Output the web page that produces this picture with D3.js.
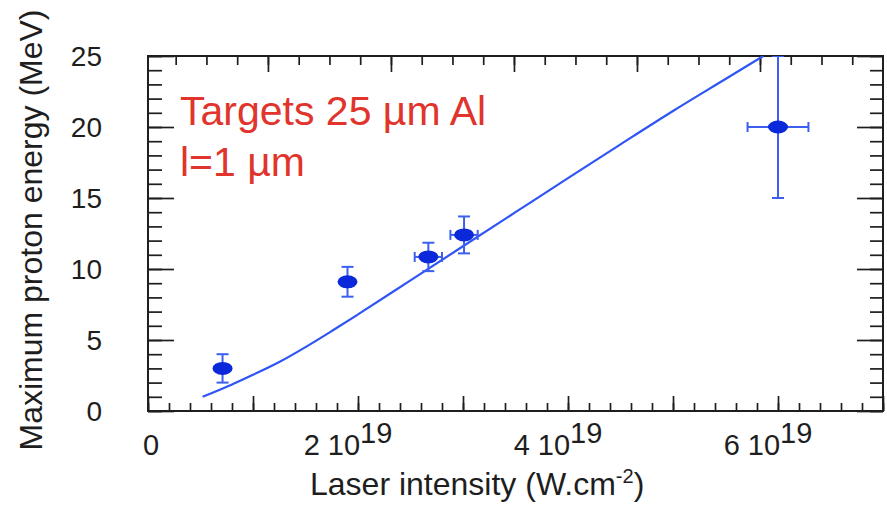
<!DOCTYPE html>
<html>
<head>
<meta charset="utf-8">
<script src="https://cdn.jsdelivr.net/npm/d3@7/dist/d3.min.js"></script>
<style>
  html, body { margin: 0; padding: 0; background: #fff; }
  svg { display: block; font-family: "Liberation Sans", Arial, sans-serif; }
</style>
</head>
<body>
<svg id="chart" width="887" height="505"></svg>
<script>
// Measured maximum proton energy vs laser intensity
const intensity    = [0.71e19, 1.9e19, 2.67e19, 3.01e19, 6.0e19];   // W.cm-2
const energy       = [3.0, 9.1, 10.85, 12.4, 20.0];                  // MeV
const energyErr    = [1.0, 1.05, 1.0, 1.3, 5.0];
const intensityErr = [0, 0, 0.13e19, 0.13e19, 0.29e19];

// Model curve
const modelIntensity = [0.52e19, 0.8e19, 1.0e19, 1.25e19, 1.5e19, 1.75e19, 2.0e19, 2.5e19, 3.0e19, 3.5e19, 4.0e19, 4.5e19, 5.0e19, 5.5e19, 5.86e19];
const modelEnergy    = [1.0, 1.87, 2.55, 3.45, 4.5, 5.63, 6.8, 9.2, 11.6, 14.0, 16.4, 18.78, 21.13, 23.38, 25.0];

// Axis ticks and labels
const xDomain = [0, 7e19];
const yDomain = [0, 25];
const xMajorTicks = d3.range(0, 7.01e19, 1e19);
const xMinorTicks = d3.range(0, 7.01e19, 0.2e19);
const xLabelTicks = [0, 2e19, 4e19, 6e19];
const xLabelMantissa = ["0", "2", "4", "6"];
const xLabelExponent = "19";
const yMajorTicks = [0, 5, 10, 15, 20, 25];
const yMinorTicks = d3.range(0, 25.01, 1);
const topDomain = [0.025, 6.0];
const topMajorTicks = [1, 2, 3, 4, 5];
const topMinorTicks = d3.range(0.25, 6.0, 0.25);

const annotation = ["Targets 25 \u00b5m Al", "l=1 \u00b5m"];
const yTitle = "Maximum proton energy (MeV)";
const xTitle = ["Laser intensity (W.cm", "-2", ")"];

const svg = d3.select("#chart");
const plot = { left: 148, right: 883, top: 56, bottom: 411 };

const x = d3.scaleLinear().domain(xDomain).range([plot.left, plot.right]);
const y = d3.scaleLinear().domain(yDomain).range([plot.bottom, plot.top]);
const xTop = d3.scaleLinear().domain(topDomain).range([plot.left, plot.right]);

const ink = "#1e1e1e";

function styleAxis(g) {
  g.select(".domain").remove();
  g.selectAll(".tick line").attr("stroke", ink).attr("stroke-width", 1.7);
  g.selectAll(".tick text").remove();
}

// Bottom axis (ticks inside)
svg.append("g").attr("transform", `translate(0,${plot.bottom})`)
  .call(d3.axisBottom(x).tickValues(xMinorTicks).tickSize(-8)).call(styleAxis);
svg.append("g").attr("transform", `translate(0,${plot.bottom})`)
  .call(d3.axisBottom(x).tickValues(xMajorTicks).tickSize(-15)).call(styleAxis);

// Top axis
svg.append("g").attr("transform", `translate(0,${plot.top})`)
  .call(d3.axisTop(xTop).tickValues(topMinorTicks).tickSize(-9)).call(styleAxis);
svg.append("g").attr("transform", `translate(0,${plot.top})`)
  .call(d3.axisTop(xTop).tickValues(topMajorTicks).tickSize(-16)).call(styleAxis);

// Left axis
svg.append("g").attr("transform", `translate(${plot.left},0)`)
  .call(d3.axisLeft(y).tickValues(yMinorTicks).tickSize(-14)).call(styleAxis);
svg.append("g").attr("transform", `translate(${plot.left},0)`)
  .call(d3.axisLeft(y).tickValues(yMajorTicks).tickSize(-26)).call(styleAxis);

// Right axis
svg.append("g").attr("transform", `translate(${plot.right},0)`)
  .call(d3.axisRight(y).tickValues(yMinorTicks).tickSize(-13)).call(styleAxis);
svg.append("g").attr("transform", `translate(${plot.right},0)`)
  .call(d3.axisRight(y).tickValues(yMajorTicks).tickSize(-26)).call(styleAxis);

// Frame
svg.append("rect")
  .attr("x", plot.left).attr("y", plot.top)
  .attr("width", plot.right - plot.left).attr("height", plot.bottom - plot.top)
  .attr("fill", "none").attr("stroke", ink).attr("stroke-width", 2);

// Y tick labels
svg.append("g").selectAll("text").data(yMajorTicks).join("text")
  .attr("x", 102).attr("y", d => y(d))
  .attr("dy", "0.36em")
  .attr("text-anchor", "end")
  .attr("font-size", 28).attr("fill", ink)
  .text(d => d);

// X tick labels (mantissa 10^exponent)
const xl = svg.append("g").selectAll("text").data(xLabelTicks).join("text")
  .attr("y", 455)
  .attr("font-size", 29).attr("fill", ink);
xl.each(function (d, i) {
  const t = d3.select(this);
  if (d === 0) {
    t.attr("x", x(d) + 3).attr("text-anchor", "middle").text(xLabelMantissa[i]);
  } else {
    t.attr("x", x(d) - 10).attr("text-anchor", "middle");
    t.append("tspan").text(xLabelMantissa[i] + " 10");
    t.append("tspan").attr("dy", -12).text(xLabelExponent);
  }
});

// Axis titles
const xt = svg.append("text")
  .attr("x", 310).attr("y", 495)
  .attr("font-size", 32).attr("fill", ink);
xt.append("tspan").text(xTitle[0]);
xt.append("tspan").attr("dy", -12).attr("font-size", 20).text(xTitle[1]);
xt.append("tspan").attr("dy", 12).text(xTitle[2]);

svg.append("text")
  .attr("transform", "translate(42,230) rotate(-90)")
  .attr("text-anchor", "middle")
  .attr("font-size", 32).attr("fill", ink)
  .text(yTitle);

// Clip for plot contents
svg.append("clipPath").attr("id", "plotClip")
  .append("rect")
  .attr("x", plot.left).attr("y", plot.top)
  .attr("width", plot.right - plot.left).attr("height", plot.bottom - plot.top);

const content = svg.append("g").attr("clip-path", "url(#plotClip)");

// Model curve
const model = modelIntensity.map((v, i) => [v, modelEnergy[i]]);
content.append("path")
  .datum(model)
  .attr("fill", "none")
  .attr("stroke", "#2f55f4")
  .attr("stroke-width", 2.2)
  .attr("d", d3.line().x(d => x(d[0])).y(d => y(d[1])).curve(d3.curveMonotoneX));

// Data points with error bars
const points = intensity.map((v, i) => ({ x: v, y: energy[i], ey: energyErr[i], ex: intensityErr[i] }));
const errColor = "#3d5ff0";
const pg = content.append("g").selectAll("g").data(points).join("g");

// vertical error bars
pg.append("line")
  .attr("x1", d => x(d.x)).attr("x2", d => x(d.x))
  .attr("y1", d => y(d.y - d.ey)).attr("y2", d => y(d.y + d.ey))
  .attr("stroke", errColor).attr("stroke-width", 2);
pg.selectAll("line.capy").data(d => [d.y - d.ey, d.y + d.ey].map(v => ({ x: d.x, v })))
  .join("line").attr("class", "capy")
  .attr("x1", d => x(d.x) - 6).attr("x2", d => x(d.x) + 6)
  .attr("y1", d => y(d.v)).attr("y2", d => y(d.v))
  .attr("stroke", errColor).attr("stroke-width", 2);

// horizontal error bars
const hx = pg.filter(d => d.ex > 0);
hx.append("line")
  .attr("x1", d => x(d.x - d.ex)).attr("x2", d => x(d.x + d.ex))
  .attr("y1", d => y(d.y)).attr("y2", d => y(d.y))
  .attr("stroke", errColor).attr("stroke-width", 2);
hx.selectAll("line.capx").data(d => [d.x - d.ex, d.x + d.ex].map(v => ({ y: d.y, v })))
  .join("line").attr("class", "capx")
  .attr("x1", d => x(d.v)).attr("x2", d => x(d.v))
  .attr("y1", d => y(d.y) - 5).attr("y2", d => y(d.y) + 5)
  .attr("stroke", errColor).attr("stroke-width", 2);

// markers
pg.append("ellipse")
  .attr("cx", d => x(d.x)).attr("cy", d => y(d.y))
  .attr("rx", 10).attr("ry", 6.5)
  .attr("fill", "#0b28da");

// Annotation
svg.append("g").selectAll("text").data(annotation).join("text")
  .attr("x", 180).attr("y", (d, i) => 125 + i * 51)
  .attr("font-size", 41).attr("fill", "#e0342c")
  .text(d => d);
</script>
</body>
</html>
